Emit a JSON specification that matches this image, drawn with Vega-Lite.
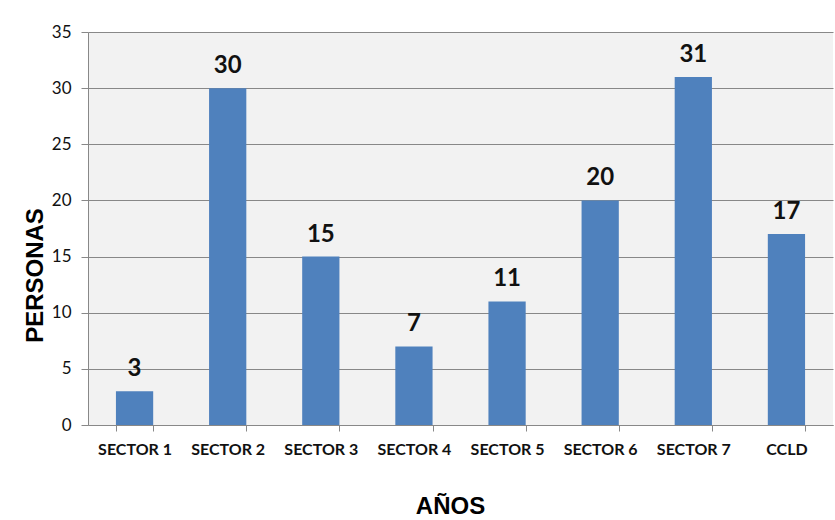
{
  "$schema": "https://vega.github.io/schema/vega-lite/v6.json",
  "width": 745,
  "height": 393,
  "autosize": {"type": "none"},
  "padding": {"left": 88, "top": 32, "right": 2, "bottom": 95},
  "background": "white",
  "config": {"view": {"stroke": null, "fill": "#f2f2f2"}},
  "data": {"values": [
    {"sector": "SECTOR 1", "personas": 3},
    {"sector": "SECTOR 2", "personas": 30},
    {"sector": "SECTOR 3", "personas": 15},
    {"sector": "SECTOR 4", "personas": 7},
    {"sector": "SECTOR 5", "personas": 11},
    {"sector": "SECTOR 6", "personas": 20},
    {"sector": "SECTOR 7", "personas": 31},
    {"sector": "CCLD", "personas": 17}
  ]},
  "encoding": {
    "x": {
      "field": "sector", "type": "nominal", "sort": null,
      "scale": {"paddingInner": 0.6, "paddingOuter": 0.3},
      "axis": {
        "title": "AÑOS", "titleFont": "Liberation Sans", "titleFontSize": 24, "titleFontWeight": "bold",
        "titleColor": "#000", "titleX": 362, "titleY": 81, "titleBaseline": "middle",
        "labelAngle": 0, "labelFont": "Lato", "labelFontSize": 16, "labelFontWeight": "bold",
        "labelColor": "#111", "labelPadding": 10,
        "tickBand": "extent", "tickSize": 6, "tickColor": "#888", "domainColor": "#888"
      }
    },
    "y": {
      "field": "personas", "type": "quantitative",
      "scale": {"domain": [0, 35]},
      "axis": {
        "title": "PERSONAS", "titleFont": "Liberation Sans", "titleFontSize": 24, "titleFontWeight": "bold",
        "titleColor": "#000", "titleX": -53, "titleY": 243, "titleAngle": -90, "titleAlign": "center", "titleBaseline": "middle",
        "values": [0, 5, 10, 15, 20, 25, 30, 35],
        "labelFont": "Lato", "labelFontSize": 17, "labelColor": "#111", "labelPadding": 10,
        "tickSize": 7, "tickColor": "#888", "domainColor": "#888",
        "grid": true, "gridColor": "#888", "gridWidth": 1
      }
    }
  },
  "layer": [
    {"mark": {"type": "bar", "color": "#4f81bd"}},
    {
      "mark": {"type": "text", "baseline": "bottom", "dy": -10, "font": "Lato", "fontSize": 24, "fontWeight": "bold", "color": "#111"},
      "encoding": {"text": {"field": "personas", "type": "quantitative"}}
    }
  ]
}
